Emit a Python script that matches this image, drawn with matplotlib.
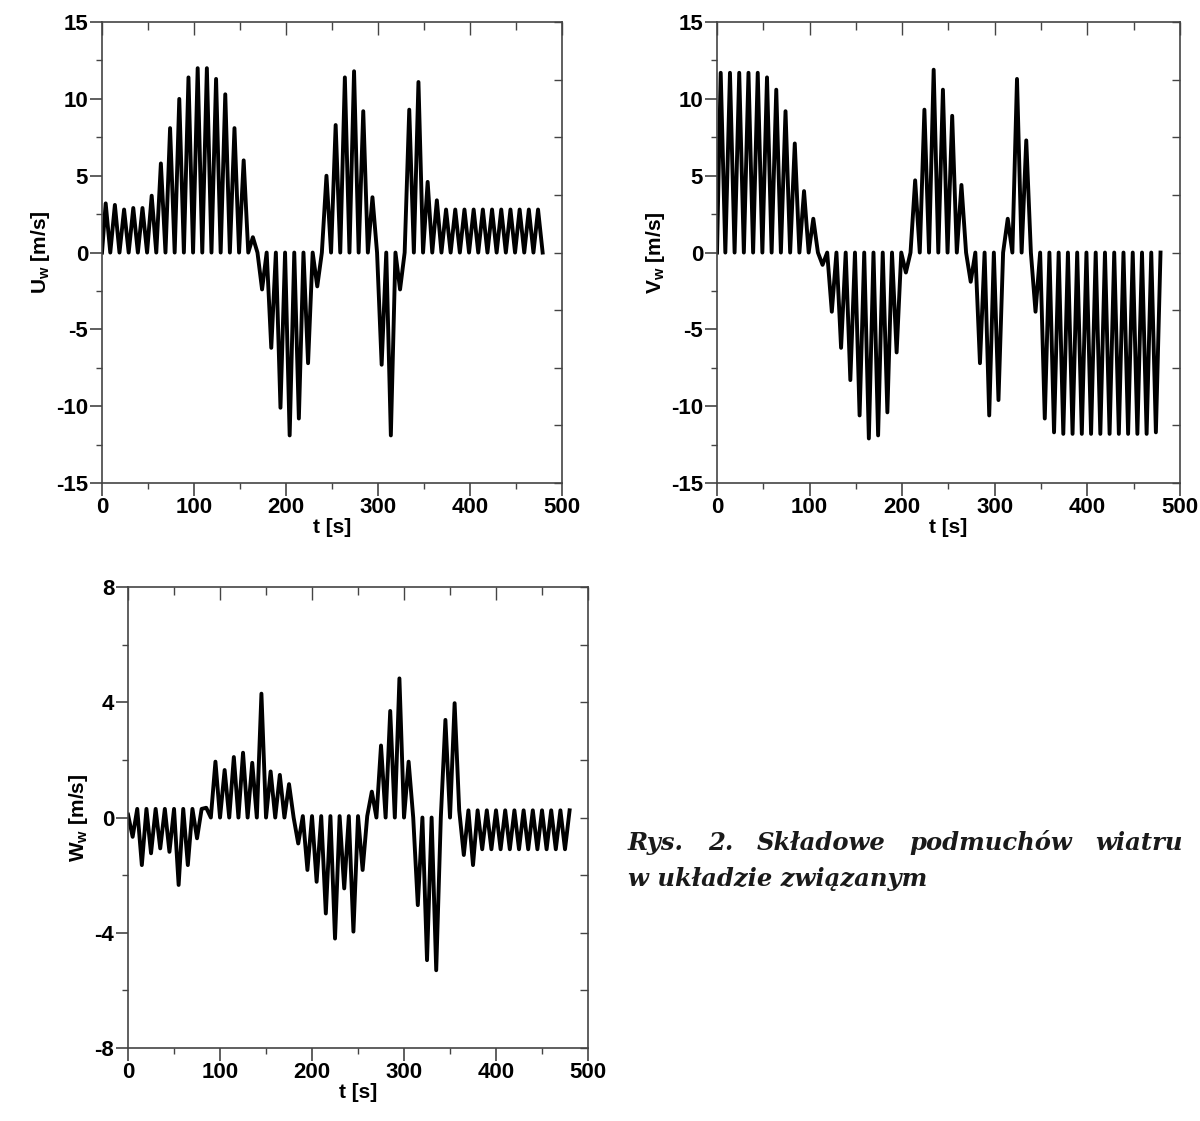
import numpy as np
import matplotlib
matplotlib.use("Agg")
import matplotlib.pyplot as plt
from matplotlib.ticker import MultipleLocator

plt.rcParams["font.family"] = ["Liberation Sans", "DejaVu Sans"]
plt.rcParams["font.weight"] = "bold"
plt.rcParams["axes.labelweight"] = "bold"
plt.rcParams["axes.unicode_minus"] = False
plt.rcParams["mathtext.fontset"] = "custom"
plt.rcParams["mathtext.rm"] = "Liberation Sans:bold"
plt.rcParams["mathtext.it"] = "Liberation Sans:bold"

# czasy ekstremów w kolejnych cyklach (okres ok. 10 s)
t_peak_uv = np.arange(4, 480, 10)
t_zero_uv = np.arange(9, 480, 10)
t_peak_w = np.arange(5, 480, 10)
t_mid_w = np.arange(0, 481, 10)

# wartości szczytowe w każdym cyklu [m/s]
u_peak = [3.2, 3.1, 2.8, 2.9, 2.9, 3.7, 5.8, 8.1, 10.0, 11.4, 12.0, 12.0,
          11.3, 10.3, 8.1, 6.0, 1.0, -2.4, -6.2, -10.1, -11.9, -10.8, -7.2,
          -2.2, 5.0, 8.3, 11.4, 11.8, 9.2, 3.6, -7.3, -11.9, -2.4, 9.3, 11.1,
          4.6, 3.4, 2.8, 2.8, 2.8, 2.8, 2.8, 2.8, 2.8, 2.8, 2.8, 2.8, 2.8]
v_peak = [11.7, 11.7, 11.7, 11.7, 11.7, 11.4, 10.6, 9.2, 7.1, 4.0, 2.2,
          -0.8, -3.85, -6.2, -8.3, -10.6, -12.1, -11.9, -10.4, -6.5, -1.3,
          4.7, 9.3, 11.9, 10.6, 8.9, 4.4, -1.9, -7.2, -10.6, -9.6, 2.2, 11.3,
          7.3, -3.85, -10.8, -11.7, -11.8, -11.8, -11.8, -11.8, -11.8, -11.8,
          -11.8, -11.8, -11.8, -11.8, -11.7]
w_peak = [-0.67, -1.65, -1.24, -1.07, -1.19, -2.34, -1.65, -0.72, 0.34, 1.94,
          1.65, 2.1, 2.25, 1.9, 4.3, 1.6, 1.48, 1.16, -0.9, -1.82, -2.23,
          -3.33, -4.2, -2.46, -3.96, -1.82, 0.9, 2.5, 3.7, 4.83, 1.94, -3.04,
          -4.95, -5.3, 3.39, 3.97, -1.3, -1.65, -1.1, -1.1, -1.1, -1.1, -1.1,
          -1.1, -1.1, -1.1, -1.1, -1.1]
w_mid = [0.1, 0.3, 0.3, 0.3, 0.3, 0.3, 0.3, 0.3, 0.3,
         0.0, 0.0, 0.0, 0.0, 0.0, 0.0, 0.0, 0.0, 0.0, 0.0,
         0.05, 0.05, 0.05, 0.05, 0.05, 0.05, 0.05, 0.05,
         0.0, 0.0, 0.0, 0.0, 0.0, 0.0, 0.0, 0.0, 0.0,
         0.25, 0.25, 0.25, 0.25, 0.25, 0.25, 0.25, 0.25, 0.25, 0.25, 0.25,
         0.25, 0.25]

caption_1 = "Rys. 2. Składowe podmuchów wiatru"
caption_2 = "w układzie związanym"


def uv_line(peaks):
    t = [0.0]
    y = [0.0]
    for tp, tz, p in zip(t_peak_uv, t_zero_uv, peaks):
        t += [tp, tz]
        y += [p, 0.0]
    return t, y


def w_line(peaks, mids):
    t = [t_mid_w[0]]
    y = [mids[0]]
    for tp, tm, p, m in zip(t_peak_w, t_mid_w[1:], peaks, mids[1:]):
        t += [tp, tm]
        y += [p, m]
    return t, y


def style_axes(ax, lim, major, minor, right_step):
    ax.set_xlim(0, 500)
    ax.set_ylim(-lim, lim)
    ax.xaxis.set_major_locator(MultipleLocator(100))
    ax.xaxis.set_minor_locator(MultipleLocator(50))
    ax.yaxis.set_major_locator(MultipleLocator(major))
    ax.yaxis.set_minor_locator(MultipleLocator(minor))
    ax.tick_params(which="major", direction="out", length=9, width=1.2,
                   labelsize=16, pad=1, color="#444")
    ax.tick_params(which="minor", direction="out", length=4, width=1.0,
                   color="#444")
    for s in ax.spines.values():
        s.set_color("#444")
        s.set_linewidth(1.2)
    top = ax.secondary_xaxis("top")
    top.xaxis.set_major_locator(MultipleLocator(100))
    top.xaxis.set_minor_locator(MultipleLocator(50))
    top.tick_params(which="major", direction="in", length=9, width=1.0,
                    labeltop=False, color="#444")
    top.tick_params(which="minor", direction="in", length=6, width=1.0,
                    color="#444")
    top.spines["top"].set_visible(False)
    right = ax.secondary_yaxis("right")
    right.yaxis.set_major_locator(MultipleLocator(right_step))
    right.tick_params(which="major", direction="in", length=6, width=1.0,
                      labelright=False, color="#444")
    right.spines["right"].set_visible(False)


fig = plt.figure(figsize=(12, 11.21), dpi=100)
ax1 = fig.add_axes([0.085, 0.5691, 0.3833, 0.4112])
ax2 = fig.add_axes([0.5975, 0.5691, 0.3858, 0.4112])
ax3 = fig.add_axes([0.1067, 0.0651, 0.3833, 0.4112])

line_kw = dict(color="black", lw=2.8, solid_joinstyle="round")

t, y = uv_line(u_peak)
ax1.plot(t, y, **line_kw)
style_axes(ax1, 15, 5, 2.5, 3.75)
ax1.set_ylabel(r"U$_{\rm w}$ [m/s]", fontsize=15, labelpad=3)
ax1.set_xlabel("t [s]", fontsize=15, labelpad=0)

t, y = uv_line(v_peak)
ax2.plot(t, y, **line_kw)
style_axes(ax2, 15, 5, 2.5, 3.75)
ax2.set_ylabel(r"V$_{\rm w}$ [m/s]", fontsize=15, labelpad=3)
ax2.set_xlabel("t [s]", fontsize=15, labelpad=0)

t, y = w_line(w_peak, w_mid)
ax3.plot(t, y, **line_kw)
style_axes(ax3, 8, 4, 2, 2)
ax3.set_ylabel(r"W$_{\rm w}$ [m/s]", fontsize=15, labelpad=3)
ax3.set_xlabel("t [s]", fontsize=15, labelpad=0)

# podpis - pierwsza linia wyjustowana do prawej krawędzi
cap_kw = dict(family="DejaVu Serif", style="italic", weight="bold",
              fontsize=17.5, color="#1a1a1a")
x_left, x_right, y1 = 628 / 1200, 1183 / 1200, 0.242
words = caption_1.split()
renderer = fig.canvas.get_renderer()
texts = [fig.text(0, y1, w, **cap_kw) for w in words]
widths = [tx.get_window_extent(renderer).width / fig.bbox.width for tx in texts]
gap = (x_right - x_left - sum(widths)) / (len(words) - 1)
x = x_left
for tx, w in zip(texts, widths):
    tx.set_x(x)
    x += w + gap
fig.text(x_left, 0.210, caption_2, **cap_kw)

fig.savefig("out.png", dpi=100)
